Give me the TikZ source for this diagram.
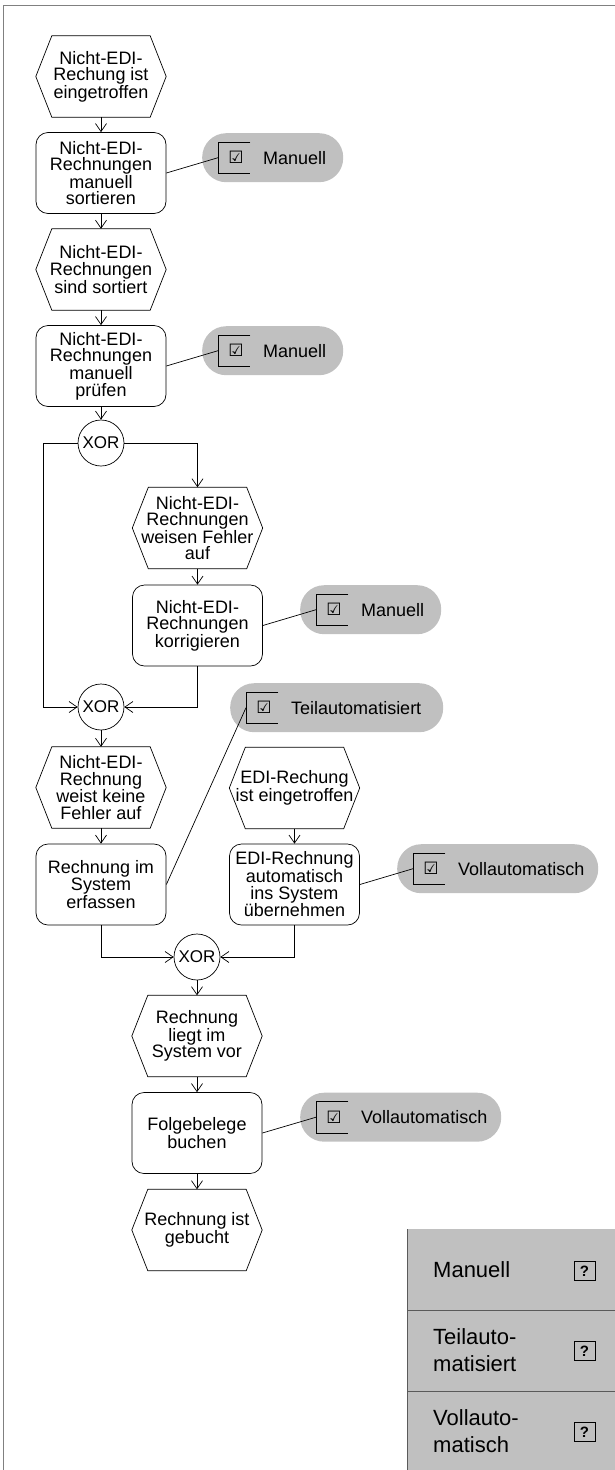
\documentclass[tikz,border=0pt]{standalone}
\usepackage{fontspec}
\setmainfont{Liberation Sans}
\newfontfamily\symfont{DejaVu Sans}
\usetikzlibrary{arrows.meta}
\definecolor{pillgray}{RGB}{192,192,192}
\definecolor{framegray}{RGB}{128,128,128}
\definecolor{rulegray}{RGB}{90,90,90}

\tikzset{
  every node/.style={font=\fontsize{18}{16.5}\selectfont},
  ln/.style={line width=0.7pt, draw=black},
  flow/.style={ln, -{Straight Barb[length=8pt,width=11pt,line width=0.7pt]}},
  evnode/.style={minimum width=130pt, minimum height=81pt, inner sep=0pt, align=center},
  fnnode/.style={draw, ln, rounded corners=12pt, minimum width=130pt, minimum height=81pt, inner sep=0pt, align=center},
  xornode/.style={draw, ln, circle, minimum size=46pt, inner sep=0pt, font=\fontsize{17}{17}\selectfont},
  pill/.style={fill=pillgray, rounded corners=24pt, minimum height=49pt, inner sep=0pt},
  brk/.style={minimum width=32pt, minimum height=31pt, inner sep=0pt},
  chk/.style={font=\symfont\fontsize{17}{17}\selectfont, inner sep=0pt},
  plabel/.style={anchor=west, inner sep=0pt},
  legcell/.style={minimum width=208pt, minimum height=81pt, inner sep=0pt},
  legtext/.style={anchor=west, align=left, inner sep=0pt, font=\fontsize{22}{27}\selectfont},
  qbox/.style={draw, ln, minimum width=21pt, minimum height=19pt, inner sep=0pt, font=\bfseries\fontsize{15}{15}\selectfont}
}

% hexagonal event outline around a text node
\newcommand\evshape[1]{%
  \draw[ln] ([xshift=16pt]#1.north west) -- ([xshift=-16pt]#1.north east) -- (#1.east)
    -- ([xshift=-16pt]#1.south east) -- ([xshift=16pt]#1.south west) -- (#1.west) -- cycle;}

% grey status pill: name, left x, top y, width, label
\newcommand\statuspill[5]{%
  \node[pill, minimum width=#4pt, anchor=north west] (#1) at (#2,#3) {};
  \node[brk, anchor=west] (#1b) at ([xshift=16pt]#1.west) {};
  \draw[ln] (#1b.north east) -- (#1b.north west) -- (#1b.south west) -- (#1b.south east);
  \node[chk] (#1c) at ([xshift=18pt]#1b.west) {☑};
  \node[plabel] (#1t) at ([xshift=45pt]#1b.west) {#5};}

\begin{document}
\begin{tikzpicture}[x=1pt, y=-1pt]
\useasboundingbox (0,0) rectangle (615,1470);

% outer frame
\draw[framegray, line width=1pt] (3,1472) -- (3,5) -- (616,5);

% left column
\node[evnode] (e1) at (101,76.5) {Nicht-EDI-\\Rechung ist\\eingetroffen};
\evshape{e1}
\node[fnnode] (f1) at (101,173) {Nicht-EDI-\\Rechnungen\\manuell\\sortieren};
\node[evnode] (e2) at (101,269.5) {Nicht-EDI-\\Rechnungen\\sind sortiert};
\evshape{e2}
\node[fnnode] (f2) at (101,366) {Nicht-EDI-\\Rechnungen\\manuell\\prüfen};
\node[xornode] (x1) at (101,443) {XOR};

% error branch
\node[evnode] (e3) at (197.5,528) {Nicht-EDI-\\Rechnungen\\weisen Fehler\\auf};
\evshape{e3}
\node[fnnode] (f3) at (197.5,625.5) {Nicht-EDI-\\Rechnungen\\korrigieren};

\node[xornode] (x2) at (101,707) {XOR};
\node[evnode] (e4) at (101,787.5) {Nicht-EDI-\\Rechnung\\weist keine\\Fehler auf};
\evshape{e4}
\node[fnnode] (f4) at (101,884.5) {Rechnung im\\System\\erfassen};

% EDI column
\node[evnode] (ee) at (294.5,788) {EDI-Rechung\\ist eingetroffen};
\evshape{ee}
\node[fnnode] (ef) at (294.5,884.5) {EDI-Rechnung\\automatisch\\ins System\\übernehmen};

% merge and end
\node[xornode] (x3) at (197,957) {XOR};
\node[evnode] (e5) at (197,1036) {Rechnung\\liegt im\\System vor};
\evshape{e5}
\node[fnnode] (f5) at (197,1133) {Folgebelege\\buchen};
\node[evnode] (e6) at (197,1230) {Rechnung ist\\gebucht};
\evshape{e6}

% status pills
\statuspill{p1}{202}{133}{141}{Manuell}
\statuspill{p2}{202}{326}{141}{Manuell}
\statuspill{p3}{300}{585}{141}{Manuell}
\statuspill{pt}{230}{683}{213}{Teilautomatisiert}
\statuspill{pv}{397}{844}{201}{Vollautomatisch}
\statuspill{pw}{300}{1092.5}{201}{Vollautomatisch}

% control flow
\draw[flow] (e1) -- (f1);
\draw[flow] (f1) -- (e2);
\draw[flow] (e2) -- (f2);
\draw[flow] (f2) -- (x1);
\draw[flow] (x1.east) -| (e3.north);
\draw[flow] (e3) -- (f3);
\draw[flow] (f3.south) |- (x2.east);
\coordinate (lb) at (43,443);
\draw[flow] (x1.west) -- (lb) |- (x2.west);
\draw[flow] (x2) -- (e4);
\draw[flow] (e4) -- (f4);
\draw[flow] (ee) -- (ef);
\draw[flow] (f4.south) |- (x3.west);
\draw[flow] (ef.south) |- (x3.east);
\draw[flow] (x3) -- (e5);
\draw[flow] (e5) -- (f5);
\draw[flow] (f5) -- (e6);

% status links
\draw[ln] (f1.east) -- (p1b.west);
\draw[ln] (f2.east) -- (p2b.west);
\draw[ln] (f3.east) -- (p3b.west);
\draw[ln] (f4.east) -- (ptb.west);
\draw[ln] (ef.east) -- (pvb.west);
\draw[ln] (f5.east) -- (pwb.west);

% legend
\node[legcell, anchor=north west, fill=pillgray] (lg1) at (407,1229) {};
\node[legcell, anchor=north west, fill=pillgray] (lg2) at (407,1310) {};
\node[legcell, anchor=north west, fill=pillgray] (lg3) at (407,1391) {};
\draw[rulegray, line width=0.8pt] (lg1.north west) -- (lg3.south west);
\draw[rulegray, line width=0.8pt] (lg1.south west) -- (lg1.south east);
\draw[rulegray, line width=0.8pt] (lg2.south west) -- (lg2.south east);
\node[legtext] (lt1) at (433,1270) {Manuell};
\node[legtext] (lt2) at (433,1350.5) {Teilauto-\\matisiert};
\node[legtext] (lt3) at (433,1431.5) {Vollauto-\\matisch};
\node[qbox] (q1) at (584.5,1271) {?};
\node[qbox] (q2) at (584.5,1351) {?};
\node[qbox] (q3) at (584.5,1432) {?};
\end{tikzpicture}
\end{document}
